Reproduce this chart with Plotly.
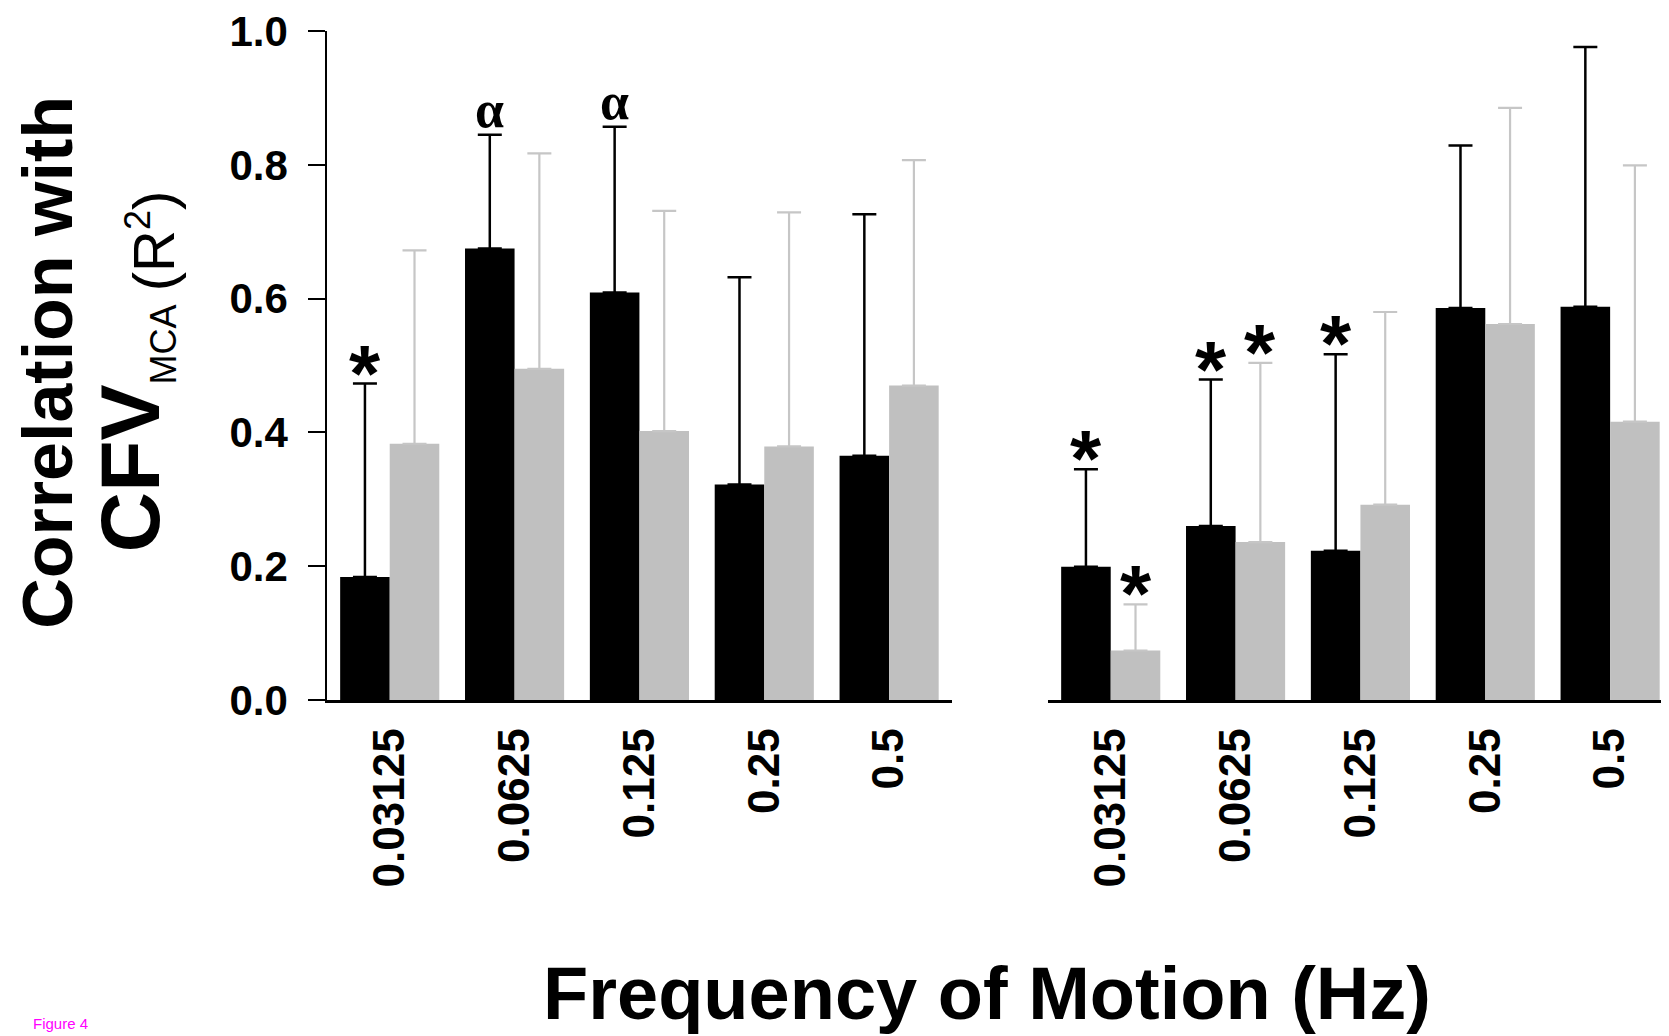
import plotly.graph_objects as go

# ---- data ----
freq_labels = ["0.03125", "0.0625", "0.125", "0.25", "0.5"]
y_ticks = [0.0, 0.2, 0.4, 0.6, 0.8, 1.0]
y_tick_text = ["0.0", "0.2", "0.4", "0.6", "0.8", "1.0"]

left_black = [0.184, 0.675, 0.609, 0.322, 0.365]
left_black_sd = [0.289, 0.170, 0.248, 0.310, 0.361]
left_gray = [0.383, 0.495, 0.402, 0.379, 0.470]
left_gray_sd = [0.289, 0.322, 0.329, 0.350, 0.337]

right_black = [0.199, 0.260, 0.223, 0.586, 0.588]
right_black_sd = [0.146, 0.219, 0.294, 0.243, 0.388]
right_gray = [0.074, 0.236, 0.292, 0.562, 0.416]
right_gray_sd = [0.069, 0.268, 0.288, 0.323, 0.383]

# significance marks: (panel, series, category index, symbol)
marks = [
    ("left", "black", 0, "*"),
    ("left", "black", 1, "α"),
    ("left", "black", 2, "α"),
    ("right", "black", 0, "*"),
    ("right", "gray", 0, "*"),
    ("right", "black", 1, "*"),
    ("right", "gray", 1, "*"),
    ("right", "black", 2, "*"),
]

BLACK = "#000000"
GRAY = "#C0C0C0"
GRAY_ERR = "#C6C6C6"
SANS = "Liberation Sans, Arial, sans-serif"

# page body has an 8px margin; the figure is sized so it fills the window
OFF = 8
WIN_W, WIN_H = 1669, 1036
W, H = WIN_W - OFF, WIN_H - OFF
PLOT_TOP, PLOT_BOT = 29, 700.5          # window pixel rows of y=1 and y=0
MT = PLOT_TOP - OFF
MB = WIN_H - PLOT_BOT
PH = H - MT - MB

def px_x(px):  # window px -> paper x
    return (px - OFF) / W

def px_y(py):  # window px -> paper y
    return (PLOT_BOT - py) / PH

xs = list(range(len(freq_labels)))

fig = go.Figure()

def add_bar(x_axis, vals, sds, color, err_color, err_w):
    fig.add_trace(go.Bar(
        x=xs, y=vals, xaxis=x_axis, yaxis="y",
        marker=dict(color=color, line=dict(width=0)),
        error_y=dict(type="data", symmetric=False, array=sds,
                     arrayminus=[0] * len(sds),
                     color=err_color, thickness=err_w, width=12),
        showlegend=False,
    ))

add_bar("x", left_black, left_black_sd, BLACK, BLACK, 2.5)
add_bar("x", left_gray, left_gray_sd, GRAY, GRAY_ERR, 2.2)
add_bar("x2", right_black, right_black_sd, BLACK, BLACK, 2.5)
add_bar("x2", right_gray, right_gray_sd, GRAY, GRAY_ERR, 2.2)

series = {
    ("left", "black"): (left_black, left_black_sd, "x", -0.1985),
    ("left", "gray"): (left_gray, left_gray_sd, "x", 0.1985),
    ("right", "black"): (right_black, right_black_sd, "x2", -0.1985),
    ("right", "gray"): (right_gray, right_gray_sd, "x2", 0.1985),
}

annotations = []
for panel, ser, i, sym in marks:
    vals, sds, xr, off = series[(panel, ser)]
    top = vals[i] + sds[i]
    if sym == "*":
        annotations.append(dict(
            x=i + off, y=top, xref=xr, yref="y", text="*",
            showarrow=False, xanchor="center", yanchor="bottom",
            yshift=-36, font=dict(family=SANS, size=80, color=BLACK, weight="bold")))
    else:
        annotations.append(dict(
            x=i + off, y=top, xref=xr, yref="y", text=sym,
            showarrow=False, xanchor="center", yanchor="bottom",
            yshift=-5, font=dict(family="Liberation Serif, Times New Roman, serif",
                                 size=52, color=BLACK, weight="bold")))

# y-axis title (two lines; the second in two pieces)
annotations.append(dict(
    x=px_x(48), y=px_y(362), xref="paper", yref="paper",
    text="<b>Correlation with</b>", textangle=-90, showarrow=False,
    xanchor="center", yanchor="middle",
    font=dict(family=SANS, size=70, color=BLACK)))
annotations.append(dict(
    x=px_x(134), y=px_y(428), xref="paper", yref="paper",
    text=('<span style="font-size:84px"><b>CFV</b></span>'
          '<sub><span style="font-size:36px">MCA</span></sub>'),
    textangle=-90, showarrow=False,
    xanchor="center", yanchor="middle",
    font=dict(family=SANS, size=80, color=BLACK)))
annotations.append(dict(
    x=px_x(151), y=px_y(240), xref="paper", yref="paper",
    text='(R<sup><span style="font-size:36px">2</span></sup>)',
    textangle=-90, showarrow=False,
    xanchor="center", yanchor="middle",
    font=dict(family=SANS, size=58, color=BLACK)))

# x-axis title
annotations.append(dict(
    x=px_x(987), y=px_y(995), xref="paper", yref="paper",
    text="<b>Frequency of Motion (Hz)</b>", showarrow=False,
    xanchor="center", yanchor="middle",
    font=dict(family=SANS, size=74, color=BLACK)))

# figure label
annotations.append(dict(
    x=px_x(32), y=px_y(1035), xref="paper", yref="paper",
    text="Figure 4", showarrow=False, xanchor="left", yanchor="bottom",
    borderpad=0,
    font=dict(family=SANS, size=15, color="#FF00FF")))

left_x0 = 327.3
right_x0 = 1048.3
cat_px = 124.85
right_end = (WIN_W - right_x0) / cat_px - 0.5

xaxis_common = dict(
    tickmode="array", tickvals=xs, ticktext=freq_labels,
    tickangle=-90, ticks="", showline=True, linecolor=BLACK, linewidth=2.5,
    showgrid=False, zeroline=False,
    tickfont=dict(family=SANS, size=44, color=BLACK, weight="bold"),
    ticklabelstandoff=8,
)

fig.update_layout(
    width=W, height=H,
    margin=dict(l=0, r=0, t=MT, b=MB, pad=0),
    paper_bgcolor="white", plot_bgcolor="white",
    barmode="group", bargap=0.206, bargroupgap=0,
    xaxis=dict(domain=[px_x(left_x0), px_x(left_x0 + 5 * cat_px)],
               range=[-0.5, 4.5], anchor="y", **xaxis_common),
    xaxis2=dict(domain=[px_x(right_x0), 1.0],
                range=[-0.5, right_end], anchor="y", **xaxis_common),
    yaxis=dict(range=[0, 1.0], tickmode="array", tickvals=y_ticks,
               ticktext=y_tick_text, ticks="outside", ticklen=17, tickwidth=2,
               tickcolor=BLACK, showline=True, linecolor=BLACK, linewidth=2,
               showgrid=False, zeroline=False, anchor="x",
               ticklabeloverflow="allow",
               tickfont=dict(family=SANS, size=42, color=BLACK, weight="bold"),
               ticklabelstandoff=12),
    annotations=annotations,
    showlegend=False,
)

fig.write_html("out.html")
